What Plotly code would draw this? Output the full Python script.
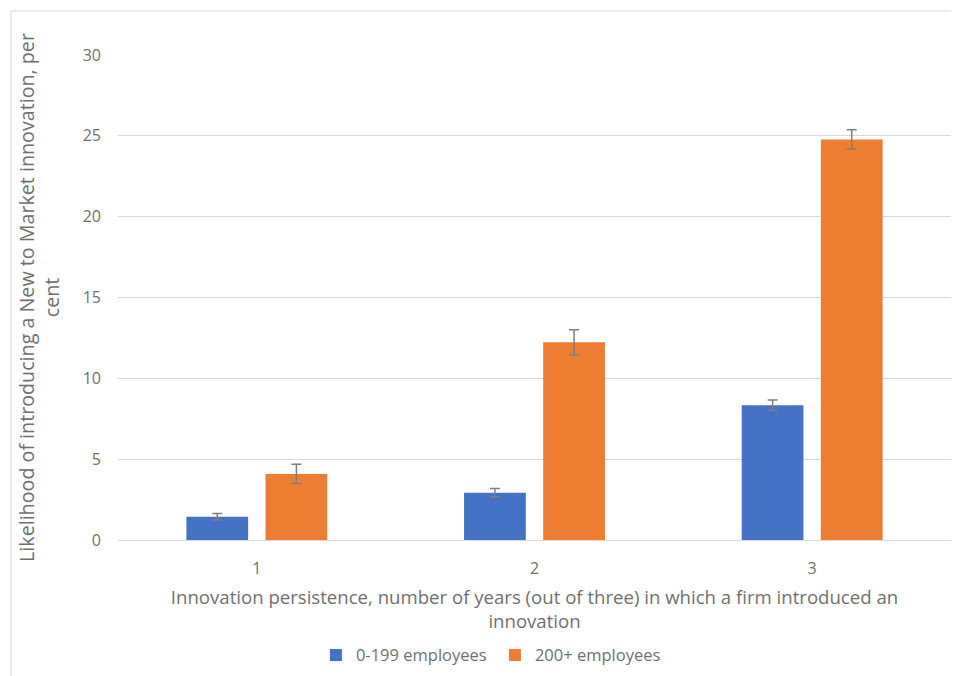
import plotly.graph_objects as go

categories = ["1", "2", "3"]
small_vals = [1.44, 2.93, 8.34]
small_err = [0.2, 0.25, 0.32]
large_vals = [4.09, 12.23, 24.78]
large_err = [0.6, 0.77, 0.59]
series_names = ["0-199 employees", "200+ employees"]
y_ticks = [0, 5, 10, 15, 20, 25, 30]

FONT = "Open Sans, Liberation Sans, Arial, sans-serif"
TXT = "#707070"
ERR = "#7f7f7f"

fig = go.Figure()
fig.add_trace(go.Bar(
    x=categories, y=small_vals, name=series_names[0],
    marker=dict(color="#4472c4", line=dict(width=0)),
    error_y=dict(type="data", array=small_err, color=ERR, thickness=1.5, width=5),
))
fig.add_trace(go.Bar(
    x=categories, y=large_vals, name=series_names[1],
    marker=dict(color="#ed7d31", line=dict(width=0)),
    error_y=dict(type="data", array=large_err, color=ERR, thickness=1.5, width=5),
))

fig.update_layout(
    width=951, height=668,
    margin=dict(l=110, r=8, t=47, b=136, autoexpand=False),
    paper_bgcolor="white", plot_bgcolor="white",
    barmode="group", bargap=0.43, bargroupgap=0.22,
    font=dict(family=FONT, color=TXT, size=15),
    showlegend=True,
    legend=dict(orientation="h", xref="container", yref="container",
                x=0.512, xanchor="center", y=0.031, yanchor="middle",
                font=dict(size=16.5, color=TXT), traceorder="normal",
                entrywidth=134, entrywidthmode="pixels"),
    xaxis=dict(
        type="category", range=[-0.5, 2.5], automargin=False,
        showline=True, linecolor="#d9d9d9", linewidth=1,
        ticks="", tickfont=dict(size=16, color=TXT), ticklabelstandoff=14,
        title=dict(text="Innovation persistence, number of years (out of three) in which a firm introduced an<br>innovation",
                   font=dict(size=18.6, color=TXT), standoff=12),
    ),
    yaxis=dict(
        range=[0, 30], tickvals=y_ticks, automargin=False,
        showgrid=True, gridcolor="#d9d9d9", gridwidth=1,
        zeroline=False, showline=False, ticks="",
        tickfont=dict(size=16, color=TXT), ticklabelstandoff=16,
        title=dict(text="Likelihood of introducing a New to Market innovation, per<br>cent",
                   font=dict(size=19.7, color=TXT), standoff=17),
    ),
    shapes=[dict(type="rect", xref="paper", yref="paper",
                 x0=-0.1285, x1=1.05, y0=-0.35, y1=1.091,
                 line=dict(color="#d9d9d9", width=1), fillcolor="rgba(0,0,0,0)", layer="below")],
)

fig.write_html("out.html")
